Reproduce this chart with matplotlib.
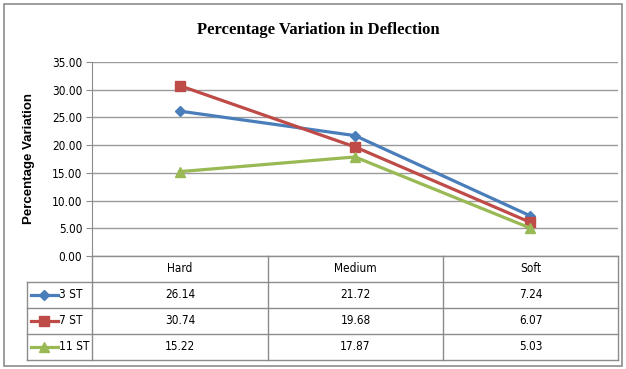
import matplotlib
matplotlib.use("Agg")
import matplotlib.pyplot as plt
from matplotlib.lines import Line2D
from matplotlib.patches import Rectangle

# Data
categories = ["Hard", "Medium", "Soft"]
series_names = ["3 ST", "7 ST", "11 ST"]
st3 = [26.14, 21.72, 7.24]
st7 = [30.74, 19.68, 6.07]
st11 = [15.22, 17.87, 5.03]
y_ticks = [0, 5, 10, 15, 20, 25, 30, 35]

series = [st3, st7, st11]
colors = ["#4A7EBB", "#BE4B48", "#98B954"]
markers = ["D", "s", "^"]
msizes = [5.5, 6.5, 7]

W, H = 626, 369
fig = plt.figure(figsize=(W / 100, H / 100), dpi=100)
fig.patch.set_facecolor("white")

narrow = dict(family="DejaVu Sans", stretch="condensed", fontsize=8.5)


def fx(px):
    return px / W


def fy(py):
    return 1 - py / H


# plot area in pixel coordinates
L, R, T, B = 92, 618, 62, 256
ax = fig.add_axes([fx(L), fy(B), fx(R) - fx(L), fy(T) - fy(B)])
ax.set_xlim(-0.5, len(categories) - 0.5)
ax.set_ylim(0, 35)
ax.set_yticks(y_ticks)
ax.set_yticklabels([f"{v:.2f}" for v in y_ticks], **narrow)
ax.set_xticks([])
ax.tick_params(axis="y", length=4, color="#8C8C8C", pad=3)
for s in ["top", "right", "bottom"]:
    ax.spines[s].set_visible(False)
ax.spines["left"].set_color("#8C8C8C")
ax.yaxis.grid(True, color="#9A9A9A", linewidth=1.0)
ax.set_axisbelow(True)

x = list(range(len(categories)))
for vals, c, m, ms in zip(series, colors, markers, msizes):
    ax.plot(x, vals, color=c, linewidth=2.3, marker=m, markersize=ms,
            markeredgecolor=c, markerfacecolor=c, clip_on=False, zorder=3)

ax.set_ylabel("Percentage Variation", family=["Liberation Sans", "DejaVu Sans"],
              fontsize=9.5, fontweight="bold", labelpad=12)

fig.text(0.508, fy(30), "Percentage Variation in Deflection",
         family=["Liberation Serif", "DejaVu Serif"], fontsize=12,
         fontweight="bold", ha="center", va="center")

# data table below the plot
grid_c = "#8C8C8C"
row_y = [256, 282, 308, 334, 360]
col_x = [L, 268, 443, R]
leg_l = 27


def hline(y, x0, x1):
    fig.add_artist(Line2D([fx(x0), fx(x1)], [fy(y), fy(y)], color=grid_c, lw=1.0))


def vline(xx, y0, y1):
    fig.add_artist(Line2D([fx(xx), fx(xx)], [fy(y0), fy(y1)], color=grid_c, lw=1.0))


hline(row_y[0], L, R)
for yy in row_y[1:]:
    hline(yy, leg_l, R)
vline(leg_l, row_y[1], row_y[-1])
for xx in col_x:
    vline(xx, row_y[0], row_y[-1])

for j, cat in enumerate(categories):
    cx = (col_x[j] + col_x[j + 1]) / 2
    fig.text(fx(cx), fy((row_y[0] + row_y[1]) / 2), cat,
             ha="center", va="center", **narrow)

for i, (name, vals, c, m, ms) in enumerate(zip(series_names, series, colors, markers, msizes)):
    cy = (row_y[i + 1] + row_y[i + 2]) / 2
    fig.add_artist(Line2D([fx(31), fx(58)], [fy(cy), fy(cy)], color=c, lw=2.3))
    fig.add_artist(Line2D([fx(44.5)], [fy(cy)], color=c, marker=m, markersize=ms,
                          markeredgecolor=c, markerfacecolor=c))
    fig.text(fx(59), fy(cy), name, ha="left", va="center", **narrow)
    for j, v in enumerate(vals):
        cx = (col_x[j] + col_x[j + 1]) / 2
        fig.text(fx(cx), fy(cy), f"{v:.2f}", ha="center", va="center", **narrow)

# chart border
fig.add_artist(Rectangle((fx(4), fy(366)), fx(622) - fx(4), fy(4) - fy(366),
                         fill=False, edgecolor="#8C8C8C", lw=1.2))

fig.savefig("out.png", dpi=100)
